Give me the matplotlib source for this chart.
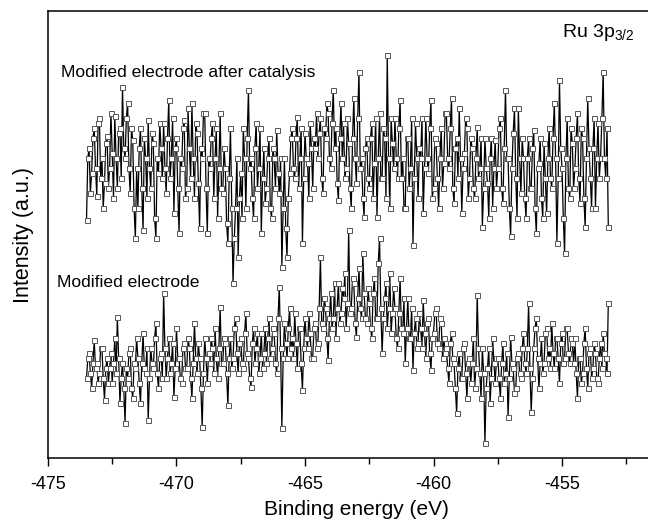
import numpy as np
import matplotlib
matplotlib.use("Agg")
import matplotlib.pyplot as plt
from matplotlib.ticker import MultipleLocator

plt.rcParams['font.family'] = ['Liberation Sans', 'DejaVu Sans']
plt.rcParams['axes.unicode_minus'] = False

# binding energy grid (eV), 0.05 eV step
energy = np.linspace(-473.5, -453.2, 407)

# intensity, arbitrary units, 20 points per eV
after_catalysis = [
    238, 300, 310, 265, 285, 320, 330, 290, 262, 335, 340, 280, 300, 250, 275, 315, 322, 270, 290, 345,
    305, 260, 342, 300, 270, 325, 330, 280, 371, 310, 300, 340, 355, 290, 265, 330, 318, 250, 220, 290,
    250, 310, 330, 270, 228, 320, 300, 260, 338, 290, 270, 325, 315, 240, 220, 300, 285, 335, 310, 280,
    335, 290, 265, 320, 358, 280, 300, 340, 245, 310, 320, 270, 225, 300, 290, 330, 338, 260, 270, 350,
    310, 280, 355, 300, 260, 335, 325, 275, 230, 310, 300, 345, 345, 270, 225, 300, 290, 320, 335, 260,
    300, 330, 240, 290, 345, 270, 265, 310, 290, 235, 215, 280, 330, 250, 175, 220, 250, 300, 201, 260,
    285, 240, 330, 300, 250, 320, 368, 290, 300, 260, 240, 310, 335, 270, 290, 330, 225, 280, 310, 255,
    270, 300, 320, 250, 240, 310, 300, 270, 328, 285, 265, 300, 191, 250, 300, 230, 201, 260, 285, 320,
    330, 290, 280, 320, 341, 270, 300, 330, 215, 280, 325, 300, 295, 260, 335, 310, 270, 320, 310, 345,
    300, 325, 340, 280, 265, 330, 320, 355, 345, 300, 290, 335, 368, 310, 330, 275, 258, 320, 355, 300,
    335, 280, 290, 340, 315, 270, 250, 320, 360, 300, 275, 340, 386, 290, 300, 260, 241, 310, 320, 280,
    270, 320, 335, 260, 295, 340, 241, 300, 345, 280, 280, 330, 320, 260, 403, 300, 250, 340, 315, 290,
    340, 300, 280, 330, 358, 280, 300, 250, 250, 320, 320, 270, 290, 340, 213, 280, 335, 300, 260, 310,
    300, 340, 245, 290, 340, 300, 285, 330, 358, 260, 270, 320, 315, 280, 250, 300, 330, 270, 295, 345,
    345, 300, 290, 330, 360, 270, 255, 310, 320, 280, 350, 300, 245, 290, 305, 340, 330, 260, 280, 320,
    310, 270, 260, 300, 331, 280, 290, 320, 231, 270, 320, 290, 275, 240, 300, 320, 250, 290, 318, 270,
    290, 330, 340, 270, 255, 310, 368, 300, 300, 250, 222, 290, 325, 350, 280, 240, 350, 300, 265, 320,
    300, 260, 240, 300, 320, 270, 270, 310, 328, 250, 225, 290, 295, 320, 260, 240, 315, 280, 245, 300,
    330, 280, 270, 320, 355, 300, 215, 280, 378, 310, 290, 240, 205, 300, 340, 270, 260, 330, 315, 270,
    290, 320, 345, 280, 255, 330, 320, 260, 231, 300, 360, 310, 280, 250, 310, 340, 250, 300, 335, 280,
    300, 340, 386, 300, 280, 330, 231,
]

modified = [
    80, 100, 105, 85, 70, 95, 118, 90, 95, 75, 85, 110, 110, 80, 58, 90, 100, 75, 90, 105,
    75, 95, 120, 85, 141, 100, 55, 80, 95, 70, 35, 90, 80, 105, 110, 70, 60, 95, 90, 120,
    100, 75, 55, 95, 125, 90, 85, 110, 38, 80, 110, 95, 90, 120, 135, 85, 70, 100, 105, 80,
    165, 110, 80, 100, 120, 85, 95, 115, 61, 90, 130, 100, 100, 80, 75, 110, 115, 90, 90, 120,
    110, 80, 60, 95, 135, 100, 85, 115, 100, 70, 31, 85, 120, 100, 75, 105, 95, 120, 110, 85,
    130, 100, 80, 110, 151, 95, 95, 120, 115, 85, 53, 100, 120, 90, 100, 130, 140, 105, 85, 115,
    120, 95, 90, 125, 145, 105, 100, 80, 71, 115, 130, 95, 110, 125, 85, 100, 125, 90, 105, 130,
    95, 120, 140, 100, 110, 130, 125, 95, 85, 140, 171, 110, 30, 100, 135, 115, 100, 130, 150, 110,
    120, 100, 145, 115, 90, 130, 130, 95, 68, 110, 140, 120, 110, 145, 125, 100, 100, 130, 135, 110,
    115, 150, 201, 135, 130, 160, 150, 120, 98, 140, 165, 130, 140, 175, 120, 150, 175, 135, 145, 170,
    160, 185, 130, 155, 228, 145, 150, 180, 175, 135, 121, 160, 190, 150, 140, 205, 165, 140, 135, 170,
    155, 130, 120, 165, 180, 140, 140, 195, 220, 150, 105, 140, 160, 175, 130, 150, 185, 125, 145, 170,
    150, 120, 110, 145, 180, 130, 125, 160, 95, 130, 160, 120, 120, 150, 88, 125, 140, 110, 115, 145,
    130, 110, 158, 125, 100, 135, 140, 105, 88, 120, 125, 145, 150, 115, 110, 140, 135, 100, 120, 105,
    110, 90, 75, 115, 125, 100, 95, 70, 45, 90, 105, 80, 80, 110, 115, 85, 60, 95, 100, 75,
    95, 120, 70, 90, 163, 110, 85, 60, 110, 85, 15, 70, 90, 110, 55, 80, 120, 95, 75, 100,
    100, 80, 60, 95, 115, 75, 85, 105, 41, 80, 121, 95, 90, 65, 70, 100, 105, 85, 80, 110,
    125, 95, 85, 110, 155, 90, 46, 80, 110, 130, 140, 100, 70, 95, 120, 85, 95, 125, 130, 100,
    110, 90, 135, 105, 90, 120, 120, 100, 75, 115, 125, 95, 100, 130, 130, 105, 95, 120, 115, 95,
    120, 85, 60, 100, 100, 75, 85, 115, 130, 90, 70, 105, 110, 80, 90, 115, 105, 80, 75, 100,
    115, 90, 125, 105, 100, 85, 155,
]

fig = plt.figure(figsize=(6.48, 5.23), dpi=100)
ax = fig.add_axes([0.074, 0.124, 0.952, 0.855])

style = dict(color='black', lw=0.9, marker='s', ms=3.6, mfc='white',
             mec='#555555', mew=0.7)
ax.plot(energy, after_catalysis, **style)
ax.plot(energy, modified, **style)

ax.set_xlim(-475, -451)
ax.set_ylim(0, 447)
ax.xaxis.set_major_locator(MultipleLocator(5))
ax.xaxis.set_minor_locator(MultipleLocator(2.5))
ax.tick_params(axis='x', which='major', direction='out', length=6, width=1,
               labelsize=13, pad=7)
ax.tick_params(axis='x', which='minor', direction='out', length=4, width=1)
ax.set_yticks([])
for s in ax.spines.values():
    s.set_linewidth(1.1)

ax.set_xlabel('Binding energy (eV)', fontsize=15, labelpad=5)
ax.set_ylabel('Intensity (a.u.)', fontsize=15.5, labelpad=10)

ax.text(-474.5, 386, 'Modified electrode after catalysis', fontsize=12.6, va='center')
ax.text(-474.65, 176, 'Modified electrode', fontsize=12.6, va='center')
ax.text(-455.0, 425, r'Ru 3p$_{\mathregular{3/2}}$', fontsize=14, va='center')

fig.savefig('out.png', dpi=100)
